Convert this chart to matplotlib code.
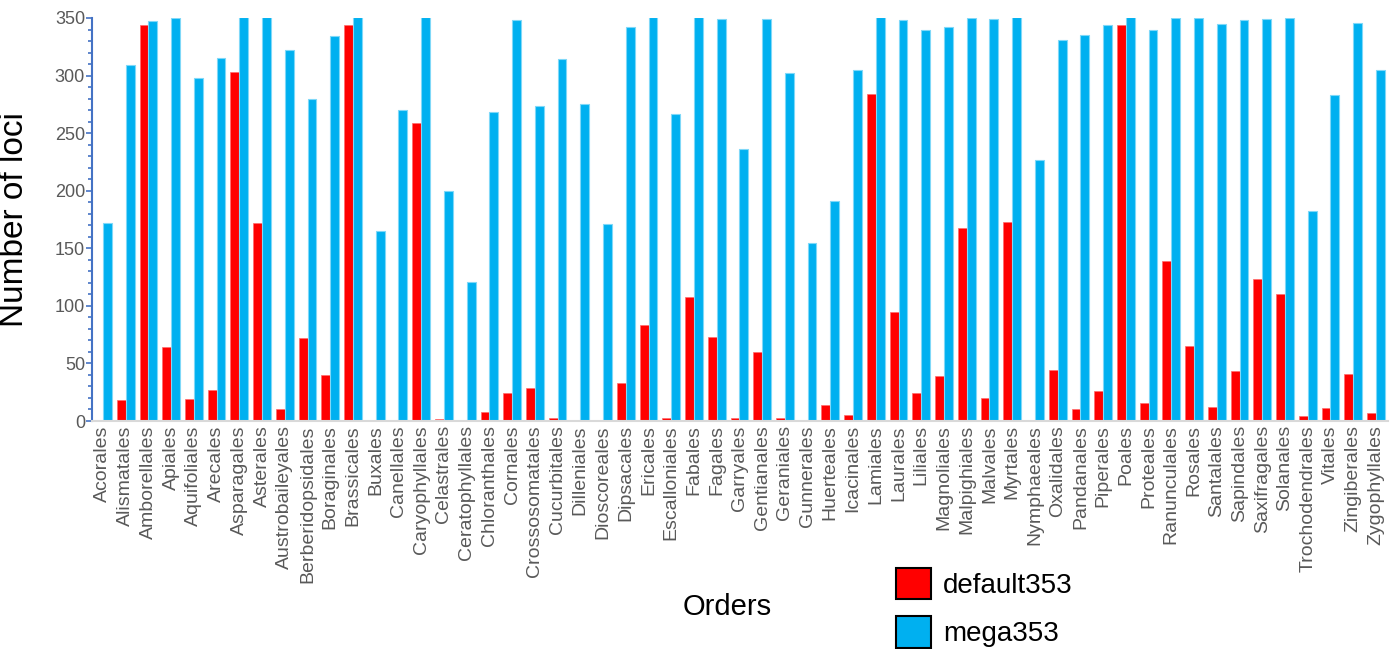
import numpy as np
import matplotlib
matplotlib.use("Agg")
import matplotlib.pyplot as plt
from matplotlib.patches import Patch
from matplotlib.ticker import MultipleLocator

plt.rcParams['font.family'] = ['Liberation Sans', 'DejaVu Sans']

# Loci per plant order, two probe sets
orders = ["Acorales", "Alismatales", "Amborellales", "Apiales", "Aquifoliales",
          "Arecales", "Asparagales", "Asterales", "Austrobaileyales",
          "Berberidopsidales", "Boraginales", "Brassicales", "Buxales",
          "Canellales", "Caryophyllales", "Celastrales", "Ceratophyllales",
          "Chloranthales", "Cornales", "Crossosomatales", "Cucurbitales",
          "Dilleniales", "Dioscoreales", "Dipsacales", "Ericales",
          "Escalloniales", "Fabales", "Fagales", "Garryales", "Gentianales",
          "Geraniales", "Gunnerales", "Huerteales", "Icacinales", "Lamiales",
          "Laurales", "Liliales", "Magnoliales", "Malpighiales", "Malvales",
          "Myrtales", "Nymphaeales", "Oxalidales", "Pandanales", "Piperales",
          "Poales", "Proteales", "Ranunculales", "Rosales", "Santalales",
          "Sapindales", "Saxifragales", "Solanales", "Trochodendrales",
          "Vitales", "Zingiberales", "Zygophyllales"]

default353 = [0.5, 18, 344, 64, 19, 27, 303, 172, 10, 72, 40, 344, 0.5, 0, 259,
              2, 0.5, 8, 24, 29, 3, 0.5, 0, 33, 83, 3, 108, 73, 3, 60, 3, 0.5,
              14, 5, 284, 95, 24, 39, 168, 20, 173, 0.5, 44, 10, 26, 344, 16,
              139, 65, 12, 43, 123, 110, 4, 11, 41, 7]

mega353 = [172, 309, 347, 350, 298, 315, 351, 351, 322, 280, 334, 351, 165,
           270, 351, 200, 121, 268, 348, 274, 314, 275, 171, 342, 351, 267,
           351, 349, 236, 349, 302, 155, 191, 305, 351, 348, 340, 342, 350,
           349, 351, 227, 331, 335, 344, 351, 340, 350, 350, 345, 348, 349,
           350, 182, 283, 346, 305]

red = '#FF0000'
blue = '#00B0F0'

fig = plt.figure(figsize=(13.9, 6.49), dpi=100)
ax = fig.add_axes([92 / 1390, 1 - 421 / 649, 1296 / 1390, 403 / 649])

x = np.arange(len(orders))
w = 0.39
ax.bar(x - w / 2, default353, w, color=red, edgecolor='#ff6b6b', linewidth=0.5)
ax.bar(x + w / 2, mega353, w, color=blue, edgecolor='#7fd8f8', linewidth=0.8)

ax.set_xlim(-0.48, len(orders) - 0.47)
ax.set_ylim(0, 350)

ax.set_xticks(x)
ax.set_xticklabels(orders, rotation=90, fontsize=14, color='#595959')
ax.tick_params(axis='x', length=0, pad=3)

ax.yaxis.set_major_locator(MultipleLocator(50))
ax.yaxis.set_minor_locator(MultipleLocator(10))
ax.tick_params(axis='y', which='major', labelsize=13, labelcolor='#595959',
               color='#4472C4', length=4, width=1.2, pad=1)
ax.tick_params(axis='y', which='minor', color='#4472C4', length=3, width=1.2)

for s in ['top', 'right']:
    ax.spines[s].set_visible(False)
ax.spines['left'].set_color('#4472C4')
ax.spines['left'].set_linewidth(1.5)
ax.spines['bottom'].set_color('#D9D9D9')
ax.spines['bottom'].set_linewidth(1.5)

ax.set_ylabel('Number of loci', fontsize=24, color='black')
ax.yaxis.set_label_coords(-0.048, 0.5)

fig.text(727 / 1390, 1 - 607 / 649, 'Orders', fontsize=21, ha='center', va='center')

handles = [Patch(facecolor=red, edgecolor='black', linewidth=1.5, label='default353'),
           Patch(facecolor=blue, edgecolor='black', linewidth=1.5, label='mega353')]
fig.legend(handles=handles, loc='upper left', bbox_to_anchor=(896 / 1390, 1 - 568 / 649),
           frameon=False, fontsize=20, handlelength=1.25, handleheight=1.35,
           handletextpad=0.45, labelspacing=0.62, borderpad=0, borderaxespad=0)

fig.savefig('out.png', dpi=100)
